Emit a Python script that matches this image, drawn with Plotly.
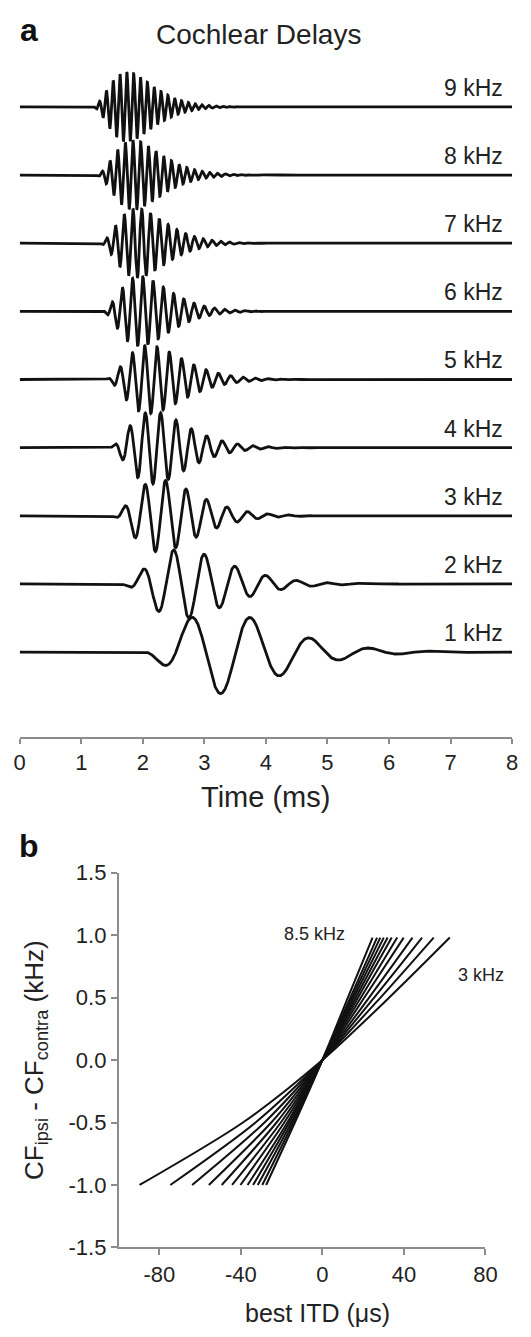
import numpy as np
import plotly.graph_objects as go

# ---------------- Panel a: cochlear impulse responses ----------------
trace_labels = ["9 kHz", "8 kHz", "7 kHz", "6 kHz", "5 kHz", "4 kHz", "3 kHz", "2 kHz", "1 kHz"]
baseline_offset = [9, 8, 7, 6, 5, 4, 3, 2, 1]
carrier_khz = [9.0, 8.0, 7.0, 6.0, 5.0, 4.0, 3.0, 2.0, 1.03]
onset_ms = [1.14, 1.20, 1.25, 1.28, 1.33, 1.38, 1.43, 1.56, 1.84]
env_peak_ms = [1.74, 1.84, 1.90, 1.95, 2.10, 2.16, 2.27, 2.62, 3.21]
pos_peak_ms = [1.74, 1.84, 1.84, 2.00, 2.03, 2.04, 2.37, 2.50, 2.78]
amplitude = [0.51, 0.51, 0.51, 0.51, 0.50, 0.53, 0.53, 0.51, 0.61]
time_ticks = [0, 1, 2, 3, 4, 5, 6, 7, 8]

# ---------------- Panel b: CF difference vs best ITD ----------------
line_freqs_khz = [3.0, 3.5, 4.0, 4.5, 5.0, 5.5, 6.0, 6.5, 7.0, 7.5, 8.0, 8.5]
cf_diff_khz = [-1.0, -0.5, 0.0, 0.5, 0.98]
itd_at_m1 = [-89.7, -74.6, -63.9, -55.7, -49.4, -44.3, -40.2, -36.7, -34.0, -31.7, -29.5, -27.6]
itd_at_m05 = [-39.0, -32.8, -28.4, -25.1, -22.5, -20.4, -18.7, -17.2, -16.2, -15.2, -14.3, -13.5]
itd_at_0 = [0.0] * 12
itd_at_p05 = [32.8, 28.5, 25.4, 22.9, 20.6, 18.9, 17.5, 16.4, 15.4, 14.5, 13.7, 12.5]
itd_at_p1 = [62.5, 54.6, 48.9, 44.2, 39.9, 36.7, 34.0, 32.0, 30.1, 28.4, 26.8, 24.6]
itd_ticks = [-80, -40, 0, 40, 80]
itd_ticktext = ["-80", "-40", "0", "40", "80"]
cf_ticks = [-1.5, -1.0, -0.5, 0.0, 0.5, 1.0, 1.5]
cf_ticktext = ["-1.5", "-1.0", "-0.5", "0.0", "0.5", "1.0", "1.5"]

FONT = "Liberation Sans, Arial, Helvetica, sans-serif"
INK = "#111111"
AXC = "#8c8c8c"
W, H = 531, 1337

fig = go.Figure()

t = np.linspace(0, 8, 4001)
for lab, base, f, t0, tp, tk, A in zip(trace_labels, baseline_offset, carrier_khz,
                                       onset_ms, env_peak_ms, pos_peak_ms, amplitude):
    tau = np.clip(t - t0, 0, None)
    taup = tp - t0
    r = tau / taup
    env = np.where(tau > 0, r ** 3 * np.exp(3 * (1 - r)), 0.0)
    y = base + A * env * np.cos(2 * np.pi * f * (t - tk))
    fig.add_trace(go.Scatter(x=t, y=y, mode="lines", line=dict(color=INK, width=2.8),
                             xaxis="x", yaxis="y", showlegend=False, hoverinfo="skip"))

for i, f in enumerate(line_freqs_khz):
    xs = [itd_at_m1[i], itd_at_m05[i], itd_at_0[i], itd_at_p05[i], itd_at_p1[i]]
    fig.add_trace(go.Scatter(x=xs, y=cf_diff_khz, mode="lines",
                             line=dict(color=INK, width=2.0, shape="spline", smoothing=0.8),
                             xaxis="x2", yaxis="y2", showlegend=False, hoverinfo="skip"))

def px(x):
    return x / W

def py(y):
    return 1 - y / H

annotations = []
annotations.append(dict(text="<b>a</b>", x=px(24), y=py(18), xref="paper", yref="paper",
                        showarrow=False, font=dict(size=32, color=INK, family=FONT),
                        xanchor="center", yanchor="middle"))
annotations.append(dict(text="Cochlear Delays", x=px(261), y=py(23), xref="paper", yref="paper",
                        showarrow=False, font=dict(size=28, color="#222", family=FONT),
                        xanchor="center", yanchor="middle"))
for lab, base in zip(trace_labels, baseline_offset):
    annotations.append(dict(text=lab, x=7.89, y=base + 0.28, xref="x", yref="y",
                            showarrow=False, font=dict(size=23, color="#222", family=FONT),
                            xanchor="right", yanchor="middle"))
annotations.append(dict(text="Time (ms)", x=px(269), y=py(800), xref="paper", yref="paper",
                        showarrow=False, font=dict(size=29, color="#222", family=FONT),
                        xanchor="center", yanchor="middle"))
annotations.append(dict(text="<b>b</b>", x=px(24), y=py(850), xref="paper", yref="paper",
                        showarrow=False, font=dict(size=32, color=INK, family=FONT),
                        xanchor="center", yanchor="middle"))
annotations.append(dict(text="8.5 kHz", x=-4, y=1.01, xref="x2", yref="y2",
                        showarrow=False, font=dict(size=18, color="#222", family=FONT),
                        xanchor="center", yanchor="middle"))
annotations.append(dict(text="3 kHz", x=78, y=0.68, xref="x2", yref="y2",
                        showarrow=False, font=dict(size=18, color="#222", family=FONT),
                        xanchor="center", yanchor="middle"))
annotations.append(dict(text="CF<sub>ipsi</sub> - CF<sub>contra</sub> (kHz)", x=px(30), y=py(1068),
                        xref="paper", yref="paper", textangle=-90,
                        showarrow=False, font=dict(size=26, color="#222", family=FONT),
                        xanchor="center", yanchor="middle"))
annotations.append(dict(text="best ITD (μs)", x=px(322), y=py(1326), xref="paper", yref="paper",
                        showarrow=False, font=dict(size=25, color="#222", family=FONT),
                        xanchor="center", yanchor="middle"))

fig.update_layout(
    width=W, height=H,
    margin=dict(l=0, r=0, t=0, b=0),
    paper_bgcolor="white", plot_bgcolor="white",
    showlegend=False,
    font=dict(family=FONT, color="#222"),
    xaxis=dict(domain=[px(14.2), px(523.9)], range=[0, 8], anchor="y",
               showline=True, linecolor=AXC, linewidth=1.5, ticks="outside", ticklen=5,
               tickcolor=AXC, tickwidth=1.5, tickvals=time_ticks,
               tickfont=dict(size=22, color="#222", family=FONT),
               showgrid=False, zeroline=False, fixedrange=True),
    yaxis=dict(domain=[py(738.8), py(6.4)], range=[-0.245, 10.3], visible=False,
               showgrid=False, zeroline=False, fixedrange=True),
    xaxis2=dict(domain=[px(116.5), px(496.3)], range=[-100, 80], anchor="y2",
                showline=True, linecolor=AXC, linewidth=1.5, ticks="outside", ticklen=6,
                tickcolor=AXC, tickwidth=1.5, tickvals=itd_ticks, ticktext=itd_ticktext,
                tickfont=dict(size=22, color="#222", family=FONT),
                showgrid=False, zeroline=False, fixedrange=True),
    yaxis2=dict(domain=[py(1259), py(877)], range=[-1.5, 1.5], anchor="x2",
                showline=True, linecolor=AXC, linewidth=1.5, ticks="outside", ticklen=6,
                tickcolor=AXC, tickwidth=1.5, tickvals=cf_ticks, ticktext=cf_ticktext,
                tickfont=dict(size=22, color="#222", family=FONT),
                showgrid=False, zeroline=False, fixedrange=True),
    annotations=annotations,
)

fig.write_html("out.html")
